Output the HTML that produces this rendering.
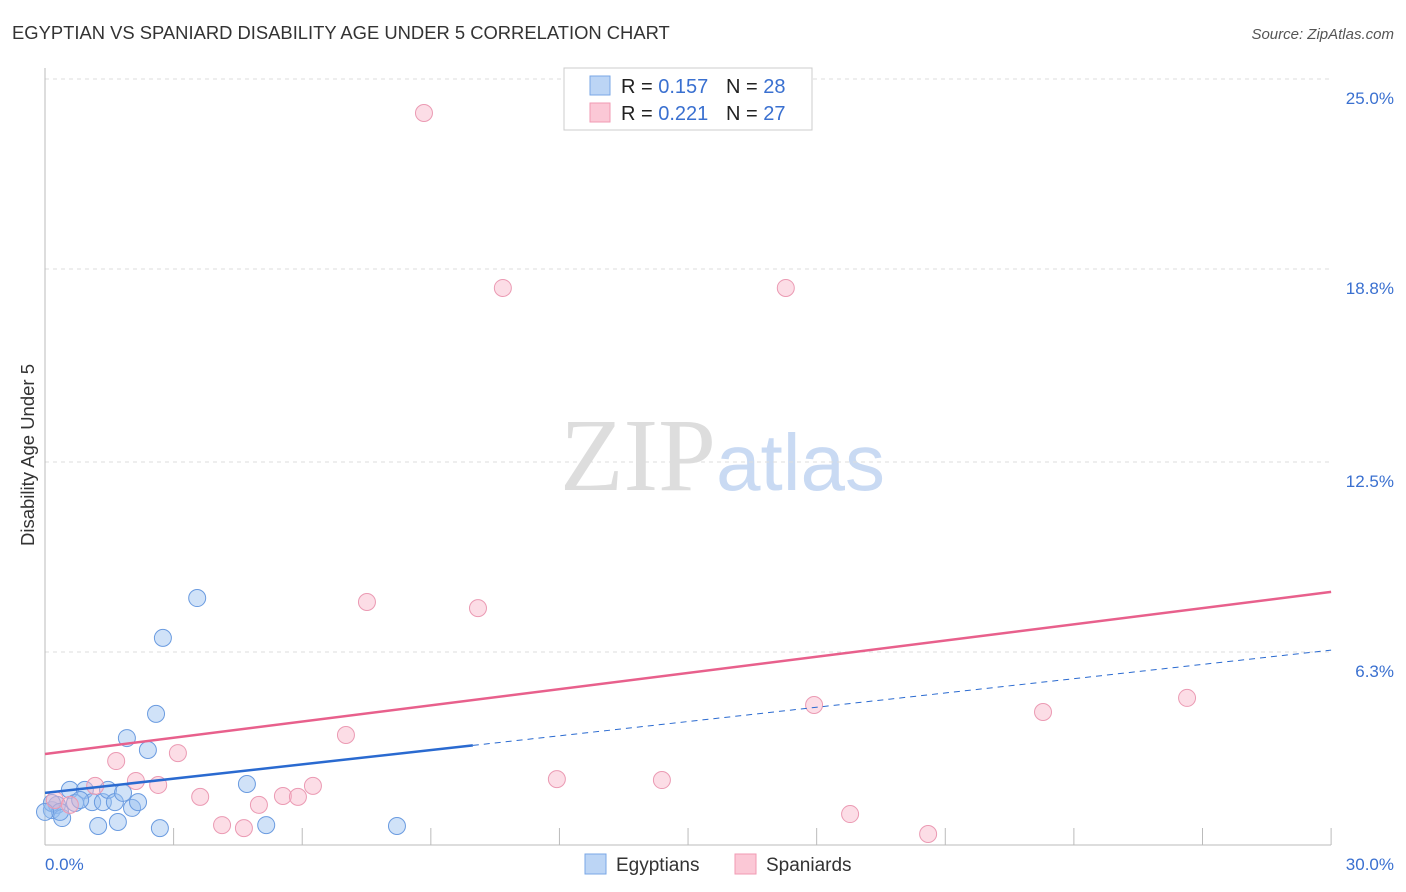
<!DOCTYPE html>
<html><head><meta charset="utf-8"><style>
body{margin:0;background:#fff;font-family:"Liberation Sans",sans-serif;}
svg{display:block}
</style></head><body>
<svg id="chart" width="1406" height="892" xmlns="http://www.w3.org/2000/svg">
<text x="12" y="39" font-size="18.4" fill="#333">EGYPTIAN VS SPANIARD DISABILITY AGE UNDER 5 CORRELATION CHART</text>
<text x="1394" y="39" font-size="15" fill="#555" font-style="italic" text-anchor="end">Source: ZipAtlas.com</text>
<text x="716" y="490" font-size="104" fill="#ddd" text-anchor="end" font-family="Liberation Serif">ZIP</text>
<text x="716" y="490" font-size="80" fill="#c9daf3">atlas</text>
<g id="grid"></g>
<g id="axes"></g>
<g id="points"></g>
<g id="trends"></g>
<text transform="translate(34,455) rotate(-90)" font-size="18.5" fill="#333" text-anchor="middle">Disability Age Under 5</text>
<text x="45" y="870" font-size="17" fill="#3a70d0">0.0%</text>
<text x="1394" y="870" font-size="17" fill="#3a70d0" text-anchor="end">30.0%</text>
<g>
<rect x="564" y="68" width="248" height="62" fill="#fff" stroke="#ccc"/>
<rect x="590" y="76" width="20" height="19" fill="#bcd5f5" stroke="#7aa7e6"/>
<rect x="590" y="103" width="20" height="19" fill="#fbc8d6" stroke="#f09ab3"/>
<text x="621" y="93" font-size="20" fill="#222">R = <tspan fill="#3a70d0">0.157</tspan><tspan x="726">N = </tspan><tspan fill="#3a70d0">28</tspan></text>
<text x="621" y="120" font-size="20" fill="#222">R = <tspan fill="#3a70d0">0.221</tspan><tspan x="726">N = </tspan><tspan fill="#3a70d0">27</tspan></text>
</g>
<g>
<rect x="585" y="854" width="21" height="20" fill="#bcd5f5" stroke="#7aa7e6"/>
<text x="616" y="871" font-size="19" fill="#333">Egyptians</text>
<rect x="735" y="854" width="21" height="20" fill="#fbc8d6" stroke="#f09ab3"/>
<text x="766" y="871" font-size="19" fill="#333">Spaniards</text>
</g>
</svg>
<script>
const yTicks=[25.0,18.8,12.5,6.3];
const yTickLabels=["25.0%","18.8%","12.5%","6.3%"];
const xTicks=[3,6,9,12,15,18,21,24,27,30];
const egyX=[0.16,0.28,0.40,0.58,0.70,0.93,1.10,1.24,1.35,1.47,1.63,1.70,1.82,2.03,2.17,1.91,2.40,2.59,2.68,2.75,3.55,4.71,5.16,8.21,0.16,0.35,0.82,0.0];
const egyY=[1.14,1.31,0.88,1.80,1.37,1.80,1.40,0.62,1.40,1.80,1.40,0.75,1.70,1.21,1.40,3.49,3.10,4.28,0.55,6.76,8.06,1.99,0.65,0.62,1.37,1.08,1.47,1.08];
const spaX=[8.84,10.68,17.28,7.51,10.10,7.02,3.10,1.66,2.12,2.64,3.62,4.99,5.55,5.90,6.25,4.13,4.64,11.94,14.39,17.94,23.28,26.64,18.78,20.60,1.17,0.23,0.58];
const spaY=[23.89,18.18,18.18,7.93,7.73,3.59,3.00,2.74,2.09,1.96,1.57,1.31,1.60,1.57,1.93,0.65,0.55,2.15,2.12,4.57,4.34,4.80,1.01,0.36,1.93,1.47,1.31];
const egyTrend=[1.70,6.36]; const egySolidEnd=9.98;
const spaTrend=[2.97,8.26];
const NS="http://www.w3.org/2000/svg";
const X=v=>45+v*42.87, Y=v=>845-v*30.64;
function mk(tag,attrs,parent){const e=document.createElementNS(NS,tag);for(const k in attrs)e.setAttribute(k,attrs[k]);document.getElementById(parent).appendChild(e);return e;}
yTicks.forEach((t,i)=>{
 const l=mk('line',{x1:45,x2:1331,y1:Y(t),y2:Y(t),stroke:'#ddd','stroke-dasharray':'4,4'},'grid');
 
 
 const tx=mk('text',{x:1394,y:Y(t)+25,'font-size':17,fill:'#3a70d0','text-anchor':'end'},'grid');
 tx.textContent=yTickLabels[i];
 
 
});
let a=mk('line',{x1:45,x2:45,y1:68,y2:845,stroke:'#bbb'},'axes');


a=mk('line',{x1:45,x2:1331,y1:845,y2:845,stroke:'#bbb'},'axes');


xTicks.forEach(t=>{
 const l=mk('line',{x1:X(t),x2:X(t),y1:828,y2:845,stroke:'#bbb'},'axes');
 
 
});
egyX.forEach((v,i)=>{
 const c=mk('circle',{cx:X(v),cy:Y(egyY[i]),r:8.5,fill:'rgba(150,190,240,0.45)',stroke:'#6a9be0','stroke-width':1},'points');
 
 
});
spaX.forEach((v,i)=>{
 const c=mk('circle',{cx:X(v),cy:Y(spaY[i]),r:8.5,fill:'rgba(248,180,200,0.45)',stroke:'#eb9ab3','stroke-width':1},'points');
 
 
});
const eAt=v=>egyTrend[0]+(egyTrend[1]-egyTrend[0])*v/30;
let t=mk('line',{x1:X(0),y1:Y(spaTrend[0]),x2:X(30),y2:Y(spaTrend[1]),stroke:'#e8608c','stroke-width':2.5},'trends');


t=mk('line',{x1:X(0),y1:Y(eAt(0)),x2:X(egySolidEnd),y2:Y(eAt(egySolidEnd)),stroke:'#2a6ad0','stroke-width':2.5},'trends');


t=mk('line',{x1:X(egySolidEnd),y1:Y(eAt(egySolidEnd)),x2:X(30),y2:Y(eAt(30)),stroke:'#2a6ad0','stroke-width':1,'stroke-dasharray':'6,5'},'trends');


</script>
</body></html>
